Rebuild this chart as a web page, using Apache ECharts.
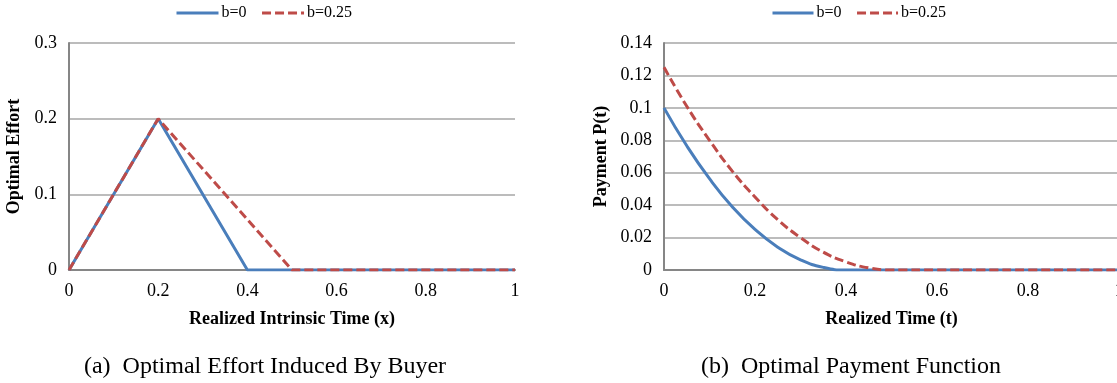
<!DOCTYPE html>
<html>
<head>
<meta charset="utf-8">
<script src="https://cdn.jsdelivr.net/npm/echarts@6/dist/echarts.min.js"></script>
<style>
  html, body { margin: 0; padding: 0; background: #fff; }
  #chart { width: 1117px; height: 383px; }
</style>
</head>
<body>
<div id="chart"></div>
<script>
// (a) effort vs intrinsic time
var effortX0 = [0, 0.2, 0.4, 1];
var effortY0 = [0, 0.2, 0, 0];
var effortX25 = [0, 0.2, 0.5, 1];
var effortY25 = [0, 0.2, 0, 0];

// (b) payment vs time
var payX0 = [0, 0.05, 0.1, 0.15, 0.2, 0.25, 0.3, 0.35, 0.4, 0.5, 0.6, 0.7, 0.8, 0.9, 1];
var payY0 = [0.1, 0.0766, 0.0563, 0.039, 0.025, 0.0141, 0.0063, 0.0016, 0, 0, 0, 0, 0, 0, 0];
var payX25 = [0, 0.05, 0.1, 0.15, 0.2, 0.25, 0.3, 0.35, 0.4, 0.45, 0.5, 0.6, 0.7, 0.8, 0.9, 1];
var payY25 = [0.125, 0.101, 0.08, 0.061, 0.045, 0.031, 0.02, 0.011, 0.005, 0.0013, 0, 0, 0, 0, 0, 0];

var legendNames = ['b=0', 'b=0.25'];
var blue = '#4a7ebb';
var red = '#be4b48';
var font = "'Liberation Serif', 'Times New Roman', serif";

function pairs(xs, ys) {
  return xs.map(function (x, i) { return [x, ys[i]]; });
}

function xAxisCfg(gridIndex, name) {
  return {
    type: 'value',
    gridIndex: gridIndex,
    min: 0,
    max: 1,
    interval: 0.2,
    name: name,
    nameLocation: 'middle',
    nameGap: 40,
    nameTextStyle: { fontFamily: font, fontWeight: 'bold', fontSize: 18, color: '#000' },
    axisLine: { show: true, lineStyle: { color: '#868686', width: 2 } },
    axisTick: { show: false },
    splitLine: { show: false },
    axisLabel: { fontFamily: font, fontSize: 18, color: '#000', margin: 12, hideOverlap: false }
  };
}

function yAxisCfg(gridIndex, name, max, interval, gap) {
  return {
    type: 'value',
    gridIndex: gridIndex,
    min: 0,
    max: max,
    interval: interval,
    name: name,
    nameLocation: 'middle',
    nameGap: gap,
    nameTextStyle: { fontFamily: font, fontWeight: 'bold', fontSize: 18, color: '#000' },
    axisLine: { show: true, lineStyle: { color: '#868686', width: 2 } },
    axisTick: { show: false },
    splitLine: { show: true, lineStyle: { color: '#a6a6a6', width: 1.5 } },
    axisLabel: { fontFamily: font, fontSize: 18, color: '#000', margin: 12 }
  };
}

function lineSeries(name, xi, data, color, dashed, smooth) {
  return {
    name: name,
    type: 'line',
    xAxisIndex: xi,
    yAxisIndex: xi,
    data: data,
    symbol: 'none',
    smooth: smooth,
    lineStyle: { color: color, width: 3, type: dashed ? [9, 4] : 'solid' },
    itemStyle: { color: color },
    z: dashed ? 3 : 2
  };
}

function legendCfg(left, w) {
  return {
    data: legendNames,
    left: left,
    top: 5,
    padding: 0,
    itemWidth: w,
    itemHeight: 14,
    itemGap: 14,
    itemStyle: { opacity: 0 },
    lineStyle: { width: 3 },
    textStyle: { fontFamily: font, fontSize: 16, color: '#000', padding: [0, 0, 0, -2] }
  };
}

var chart = echarts.init(document.getElementById('chart'));
chart.setOption({
  animation: false,
  backgroundColor: '#fff',
  legend: [legendCfg(175, 42), legendCfg(771, 41)],
  grid: [
    { left: 69, top: 43, width: 446, height: 227, outerBoundsMode: 'none' },
    { left: 664, top: 43, width: 455, height: 227, outerBoundsMode: 'none' }
  ],
  xAxis: [
    xAxisCfg(0, 'Realized Intrinsic Time (x)'),
    xAxisCfg(1, 'Realized Time (t)')
  ],
  yAxis: [
    yAxisCfg(0, 'Optimal Effort', 0.3, 0.1, 46),
    yAxisCfg(1, 'Payment P(t)', 0.14, 0.02, 54)
  ],
  series: [
    lineSeries('b=0', 0, pairs(effortX0, effortY0), blue, false, false),
    lineSeries('b=0.25', 0, pairs(effortX25, effortY25), red, true, false),
    lineSeries('b=0', 1, pairs(payX0, payY0), blue, false, true),
    lineSeries('b=0.25', 1, pairs(payX25, payY25), red, true, true)
  ],
  graphic: [
    {
      type: 'text',
      x: 265,
      y: 367,
      style: {
        text: '(a)  Optimal Effort Induced By Buyer',
        font: '24px ' + font,
        fill: '#000',
        textAlign: 'center',
        textVerticalAlign: 'middle'
      }
    },
    {
      type: 'text',
      x: 851,
      y: 367,
      style: {
        text: '(b)  Optimal Payment Function',
        font: '24px ' + font,
        fill: '#000',
        textAlign: 'center',
        textVerticalAlign: 'middle'
      }
    }
  ]
});
</script>
</body>
</html>
